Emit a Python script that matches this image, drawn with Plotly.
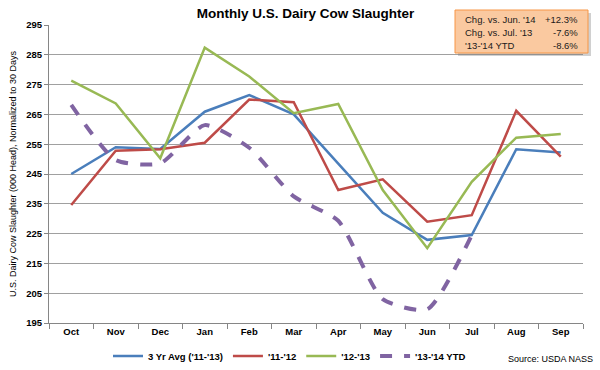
import plotly.graph_objects as go

months = ["Oct", "Nov", "Dec", "Jan", "Feb", "Mar", "Apr", "May", "Jun", "Jul", "Aug", "Sep"]
avg_3yr = [245.0, 254.0, 253.4, 265.9, 271.5, 265.0, 248.5, 232.0, 222.9, 224.5, 253.3, 252.2]
y_11_12 = [234.6, 252.8, 253.3, 255.5, 270.0, 269.1, 239.6, 243.2, 229.0, 231.2, 266.2, 250.8]
y_12_13 = [276.3, 268.7, 250.3, 287.4, 277.7, 265.4, 268.5, 239.6, 220.1, 242.4, 257.2, 258.4]
y_13_14 = [268.2, 249.7, 248.6, 261.4, 253.8, 237.5, 229.3, 203.0, 199.6, 224.5]

series_names = ["3 Yr Avg ('11-'13)", "'11-'12", "'12-'13", "'13-'14 YTD"]
box_labels = ["Chg. vs. Jun. '14", "Chg. vs. Jul. '13", "'13-'14 YTD"]
box_values = ["+12.3%", "-7.6%", "-8.6%"]

FONT = "Liberation Sans Narrow, Liberation Sans, Arial, sans-serif"

fig = go.Figure()
fig.add_trace(go.Scatter(x=months, y=avg_3yr, mode="lines", name=series_names[0],
                         line=dict(color="#4A7EBB", width=2.5)))
fig.add_trace(go.Scatter(x=months, y=y_11_12, mode="lines", name=series_names[1],
                         line=dict(color="#BE4B48", width=2.5)))
fig.add_trace(go.Scatter(x=months, y=y_12_13, mode="lines", name=series_names[2],
                         line=dict(color="#98B954", width=2.5)))
fig.add_trace(go.Scatter(x=months[:len(y_13_14)], y=y_13_14, mode="lines", name=series_names[3],
                         line=dict(color="#8064A2", width=4, dash="dash", shape="spline", smoothing=0.6)))

fig.update_layout(
    width=600, height=370,
    margin=dict(l=49, r=17, t=25, b=47, autoexpand=False),
    paper_bgcolor="white", plot_bgcolor="white",
    font=dict(family=FONT, size=10, color="#000000"),
    title=dict(text="<b>Monthly U.S. Dairy Cow Slaughter</b>", xref="paper", x=(305.5 - 49) / 534,
               xanchor="center", y=1 - 13 / 370, yref="container", yanchor="middle",
               font=dict(size=13.5, family=FONT)),
    showlegend=True,
    legend=dict(orientation="h", x=(108 - 49) / 534, xanchor="left", y=-(356 - 323) / 298,
                yanchor="middle",
                font=dict(size=9.5, family=FONT, weight="bold"), itemwidth=30, tracegroupgap=0,
                bgcolor="rgba(0,0,0,0)"),
    xaxis=dict(type="category", range=[-0.5, 11.5], showgrid=False,
               showline=True, linecolor="#868686", linewidth=1,
               ticks="outside", tickson="boundaries", ticklen=5, tickcolor="#868686",
               tickfont=dict(size=9.5, family=FONT, weight="bold")),
    yaxis=dict(range=[195, 295], dtick=10, tick0=195, showgrid=True, gridcolor="#A0A0A0",
               gridwidth=1, showline=True, linecolor="#868686", linewidth=1,
               ticks="outside", ticklen=4, tickcolor="#868686",
               tickfont=dict(size=9.5, family=FONT, weight="bold"),
               title=dict(text="U.S. Dairy Cow Slaughter (000 Head), Normalized to 30 Days",
                          font=dict(size=9, family=FONT), standoff=8)),
)

# Info box (shadow + box)
fig.add_shape(type="rect", xref="paper", yref="paper",
              x0=(458 - 49) / 534, x1=(591 - 49) / 534,
              y0=(323 - 56) / 298, y1=(323 - 13) / 298,
              line=dict(width=0), fillcolor="rgba(120,120,120,0.35)", layer="above")
fig.add_shape(type="rect", xref="paper", yref="paper",
              x0=(455 - 49) / 534, x1=(588 - 49) / 534,
              y0=(323 - 53) / 298, y1=(323 - 10) / 298,
              line=dict(color="#F79646", width=1),
              fillcolor="#FAC9A0", layer="above")
for i, (lab, val) in enumerate(zip(box_labels, box_values)):
    yy = (323 - (20 + i * 12.5)) / 298
    fig.add_annotation(xref="paper", yref="paper", x=(463 - 49) / 534, y=yy,
                       text=lab, showarrow=False, xanchor="left", yanchor="middle",
                       font=dict(size=9.5, family=FONT, color="#1a1a1a"))
    fig.add_annotation(xref="paper", yref="paper", x=(580 - 49) / 534, y=yy,
                       text=val, showarrow=False, xanchor="right", yanchor="middle",
                       font=dict(size=9.5, family=FONT, color="#1a1a1a"))

fig.add_annotation(xref="paper", yref="paper", x=(506 - 49) / 534, y=-(359 - 323) / 298,
                   text="Source: USDA NASS", showarrow=False, xanchor="left", yanchor="middle",
                   font=dict(size=9, family=FONT))

fig.write_html("out.html", config={"displayModeBar": False},
               post_script="document.body.style.margin='0';document.body.style.overflow='hidden';")
